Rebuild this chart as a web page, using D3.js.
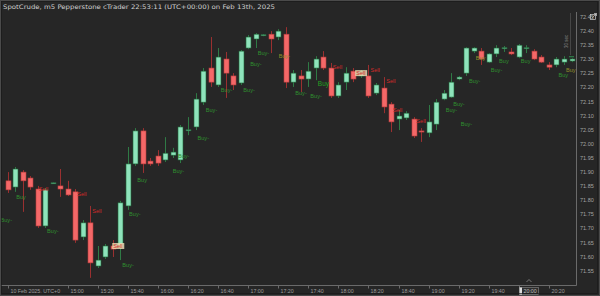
<!DOCTYPE html>
<html>
<head>
<meta charset="utf-8">
<script src="https://cdn.jsdelivr.net/npm/d3@7"></script>
<style>
  html, body { margin: 0; padding: 0; background: #262626; }
  svg { display: block; }
</style>
</head>
<body>
<svg id="chart" width="600" height="296"></svg>
<script>
// m5 candles, SpotCrude 10 Feb 2025 from 14:20
var opens  = [71.869,71.847,71.900,71.879,71.840,71.709,71.861,71.851,71.840,71.830,71.670,71.720,71.567,71.599,71.638,71.631,71.780,71.929,72.046,71.939,
              71.957,71.943,71.960,71.943,72.049,72.060,72.148,72.269,72.209,72.301,72.241,72.216,72.340,72.372,72.386,72.389,72.379,72.389,72.219,72.241,
              72.230,72.269,72.308,72.269,72.170,72.219,72.258,72.241,72.241,72.180,72.198,72.141,72.088,72.092,72.088,72.046,72.039,72.070,72.159,72.166,
              72.230,72.251,72.329,72.329,72.290,72.319,72.340,72.326,72.308,72.340,72.329,72.308,72.280,72.280,72.290,72.294];
var highs  = [71.900,71.918,71.907,71.886,71.851,71.844,71.863,71.911,71.869,71.840,71.730,71.780,71.638,71.645,71.659,71.798,71.989,72.056,72.056,71.950,
              71.978,72.024,71.986,72.067,72.095,72.180,72.269,72.379,72.340,72.326,72.251,72.333,72.386,72.393,72.389,72.400,72.407,72.414,72.262,72.262,
              72.290,72.311,72.329,72.287,72.219,72.272,72.269,72.262,72.280,72.216,72.237,72.148,72.120,72.116,72.095,72.056,72.138,72.159,72.191,72.251,
              72.241,72.343,72.343,72.340,72.322,72.350,72.347,72.340,72.354,72.350,72.336,72.315,72.290,72.308,72.311,72.304];
var lows   = [71.826,71.830,71.759,71.837,71.702,71.702,71.859,71.812,71.815,71.649,71.659,71.525,71.560,71.592,71.599,71.588,71.766,71.922,71.897,71.922,
              71.922,71.936,71.950,71.932,72.031,72.049,72.138,72.202,72.202,72.163,72.191,72.209,72.336,72.340,72.382,72.322,72.368,72.198,72.202,72.184,
              72.202,72.226,72.262,72.163,72.163,72.191,72.219,72.234,72.163,72.173,72.109,72.042,72.049,72.085,72.021,72.007,72.024,72.049,72.155,72.163,
              72.226,72.241,72.322,72.280,72.287,72.308,72.326,72.315,72.304,72.322,72.297,72.287,72.262,72.272,72.280,72.290];
var closes = [71.837,71.911,71.869,71.847,71.709,71.837,71.862,71.840,71.819,71.659,71.720,71.578,71.588,71.638,71.627,71.791,71.929,72.046,71.929,71.929,
              71.932,71.967,71.971,72.060,72.050,72.159,72.258,72.219,72.308,72.251,72.209,72.329,72.379,72.389,72.387,72.372,72.400,72.219,72.251,72.230,
              72.258,72.301,72.269,72.170,72.209,72.251,72.230,72.251,72.170,72.209,72.131,72.078,72.099,72.109,72.028,72.042,72.078,72.148,72.180,72.219,
              72.237,72.340,72.340,72.301,72.319,72.340,72.341,72.319,72.350,72.341,72.301,72.290,72.272,72.301,72.301,72.301];

// strategy signals: candle position, price, text, kind
var sigPos   = [-1.6,0.9,3.9,5.0,9.0,11.0,13.8,15.0,15.9,17.0,21.7,22.4,25.0,26.1,28.1,31.1,32.0,33.0,35.8,38.0,
                40.0,41.0,43.0,46.1,48.0,50.1,51.0,54.1,58.0,59.0,60.0,61.1,62.0,64.0,65.1,68.0,73.0,74.0];
var sigPrice = [71.730,71.812,71.840,71.691,71.822,71.762,71.638,71.570,71.751,71.872,71.904,71.957,72.021,72.120,72.191,72.191,72.283,72.322,72.311,72.180,
                72.170,72.212,72.272,72.251,72.262,72.223,72.120,72.081,72.120,72.141,72.070,72.223,72.304,72.262,72.294,72.294,72.244,72.262];
var sigText  = ["Buy-","Buy","Sell","Buy-","Sell","Sell","Sell","Buy-","Buy-","Buy","Buy-","Buy-","Buy-","Buy-","Buy-","Buy-","Buy-","Buy-","Buy-","Buy-",
                "Buy-","Buy","Sell","Sell","Sell","Sell","Sell","Sell","Buy-","Buy-","Buy-","Buy-","Buy","Buy-","Buy","Buy","Buy","Buy"];
var sigKind  = ["b","b","s","b","s","s","sh","b","b","b","b","b","b","b","b","b","b","b","o","b",
                "b","bb","s","sh","s","s","s","s","b","b","b","b","o","b","b","b","b","o"];

var priceTicks = d3.range(0, 19).map(k => +(72.45 - k * 0.05).toFixed(2));
var timeTickIdx = [0, 8, 12, 16, 20, 24, 28, 32, 36, 40, 44, 48, 52, 56, 60, 64, 68, 72];
var timeLabels = ["10 Feb 2025, UTC+0", "15:00", "15:20", "15:40", "16:00", "16:20", "16:40", "17:00", "17:20",
                  "17:40", "18:00", "18:20", "18:40", "19:00", "19:20", "19:40", "20:00", "20:20"];
var currentTick = 16;
var title = "SpotCrude, m5 Pepperstone cTrader 22:53:11 (UTC+00:00) on Feb 13th, 2025";

const svg = d3.select("#chart");
const W = 600, H = 296;
const plotRight = 576.5, plotBottom = 285.5, plotTop = 12;

const x = d3.scaleLinear().domain([0, 75]).range([7.5, 571.5]);
const y = d3.scaleLinear().domain([71.55, 72.45]).range([270.8, 17]);

svg.append("rect").attr("width", W).attr("height", H).attr("fill", "#262626");

svg.append("defs").append("clipPath").attr("id", "plot")
  .append("rect").attr("x", 0).attr("y", plotTop).attr("width", plotRight).attr("height", plotBottom - plotTop);

const plot = svg.append("g").attr("clip-path", "url(#plot)");

const data = opens.map((o, i) => ({ i: i, o: o, h: highs[i], l: lows[i], c: closes[i] }));

// wicks
plot.append("g")
  .selectAll("line")
  .data(data)
  .enter()
  .append("line")
  .attr("x1", d => Math.round(x(d.i)) + 0.5)
  .attr("x2", d => Math.round(x(d.i)) + 0.5)
  .attr("y1", d => y(d.h))
  .attr("y2", d => y(d.l))
  .attr("stroke", d => d.c >= d.o ? "#2f7a45" : "#9a3030")
  .attr("stroke-width", 1);

// bodies
plot.append("g")
  .selectAll("rect")
  .data(data)
  .enter()
  .append("rect")
  .attr("x", d => Math.round(x(d.i)) - 2)
  .attr("width", 5)
  .attr("y", d => y(Math.max(d.o, d.c)))
  .attr("height", d => Math.max(1, Math.abs(y(d.o) - y(d.c))))
  .attr("fill", d => d.c >= d.o ? "#8ee3bb" : "#f46868")
  .attr("stroke", d => d.c >= d.o ? "#1f6a3a" : "#b83c3c")
  .attr("stroke-width", 0.6);

// signal labels
const sigColor = { b: "#2f8f2f", bb: "#22a022", s: "#d42a2a", sh: "#d42a2a", o: "#8f8f2a" };
const sig = plot.append("g")
  .selectAll("g")
  .data(sigPos.map((p, k) => ({ p: p, v: sigPrice[k], t: sigText[k], k: sigKind[k] })))
  .enter()
  .append("g")
  .attr("transform", d => `translate(${Math.max(0.5, x(d.p) + 2)},${y(d.v)})`);

sig.filter(d => d.k == "sh")
  .append("rect")
  .attr("x", -1).attr("y", -3).attr("width", 12).attr("height", 6)
  .attr("fill", "#e8d9b0").attr("opacity", 0.85);

sig.append("text")
  .text(d => d.t)
  .attr("dy", "0.35em")
  .attr("font-family", "Liberation Sans, Arial, sans-serif")
  .attr("font-size", d => d.k == "bb" ? 6.5 : 5.6)
  .attr("fill", d => sigColor[d.k]);

// axes lines
svg.append("line").attr("x1", plotRight).attr("x2", plotRight).attr("y1", plotTop).attr("y2", plotBottom)
  .attr("stroke", "#6a6a6a");
svg.append("line").attr("x1", 0).attr("x2", plotRight).attr("y1", plotBottom).attr("y2", plotBottom)
  .attr("stroke", "#6a6a6a");

// price labels
svg.append("g")
  .selectAll("text")
  .data(priceTicks)
  .enter()
  .append("text")
  .attr("x", 580)
  .attr("y", d => y(d))
  .attr("dy", "0.35em")
  .attr("font-family", "Liberation Sans, Arial, sans-serif")
  .attr("font-size", 5.5)
  .attr("fill", "#a4a4a4")
  .text(d => d.toFixed(2));

// time ticks and labels
const tg = svg.append("g")
  .selectAll("g")
  .data(timeTickIdx.map((t, k) => ({ t: t, s: timeLabels[k], k: k })))
  .enter()
  .append("g")
  .attr("transform", d => `translate(${Math.round(x(d.t)) + 0.5},${plotBottom})`);
tg.append("line").attr("y1", 0).attr("y2", 3).attr("stroke", "#6a6a6a");
tg.filter(d => d.k != currentTick)
  .append("text")
  .attr("x", 2).attr("y", 6).attr("dy", "0.35em")
  .attr("font-family", "Liberation Sans, Arial, sans-serif")
  .attr("font-size", 5.3)
  .attr("fill", "#9c9c9c")
  .text(d => d.s);

// current time marker box
const cx = Math.round(x(timeTickIdx[currentTick])) + 0.5;
svg.append("rect").attr("x", cx).attr("y", 287.5).attr("width", 19).attr("height", 7)
  .attr("fill", "#2e2e2e").attr("stroke", "#8a8a8a").attr("stroke-width", 0.6);
svg.append("rect").attr("x", cx).attr("y", 287.5).attr("width", 2.5).attr("height", 7).attr("fill", "#dddddd");
svg.append("text").attr("x", cx + 4).attr("y", 291.2).attr("dy", "0.35em")
  .attr("font-family", "Liberation Sans, Arial, sans-serif").attr("font-size", 5.3).attr("fill", "#bdbdbd")
  .text(timeLabels[currentTick]);
svg.append("path").attr("d", `M${cx + 7},282 l2.5,-2.5 l2.5,2.5`).attr("fill", "none").attr("stroke", "#9a9a9a").attr("stroke-width", 0.7);

// countdown / misc near last bar
svg.append("line").attr("x1", 570.5).attr("x2", 570.5).attr("y1", 13).attr("y2", 55).attr("stroke", "#555").attr("stroke-width", 0.7);
svg.append("text").attr("transform", "translate(568,48) rotate(-90)")
  .attr("font-family", "Liberation Sans, Arial, sans-serif").attr("font-size", 4.5).attr("fill", "#8a8a8a")
  .text("30 sec");
svg.append("line").attr("x1", 569).attr("x2", 574).attr("y1", y(72.309)).attr("y2", y(72.309)).attr("stroke", "#2f8f4f");

// top right icon
svg.append("rect").attr("x", 590.5).attr("y", 14.5).attr("width", 5).attr("height", 5)
  .attr("fill", "none").attr("stroke", "#cfcfcf").attr("stroke-width", 0.7);
svg.append("path").attr("d", "M592,18 L596.5,13.5 M594,13.5 L596.5,13.5 L596.5,16").attr("fill", "none")
  .attr("stroke", "#cfcfcf").attr("stroke-width", 0.7);

// title
svg.append("text").attr("x", 3).attr("y", 7).attr("dy", "0.35em")
  .attr("font-family", "DejaVu Sans, sans-serif").attr("font-size", 6.2).attr("fill", "#cfcfcf")
  .attr("textLength", 272).attr("lengthAdjust", "spacingAndGlyphs")
  .text(title);

// frame
svg.append("rect").attr("x", 0.5).attr("y", 0.5).attr("width", W - 1).attr("height", H - 1)
  .attr("fill", "none").attr("stroke", "#4a4a4a");
svg.append("rect").attr("x", 1.5).attr("y", 1.5).attr("width", W - 4).attr("height", H - 4)
  .attr("fill", "none").attr("stroke", "#1a1a1a").attr("stroke-width", 0.7);
</script>
</body>
</html>
